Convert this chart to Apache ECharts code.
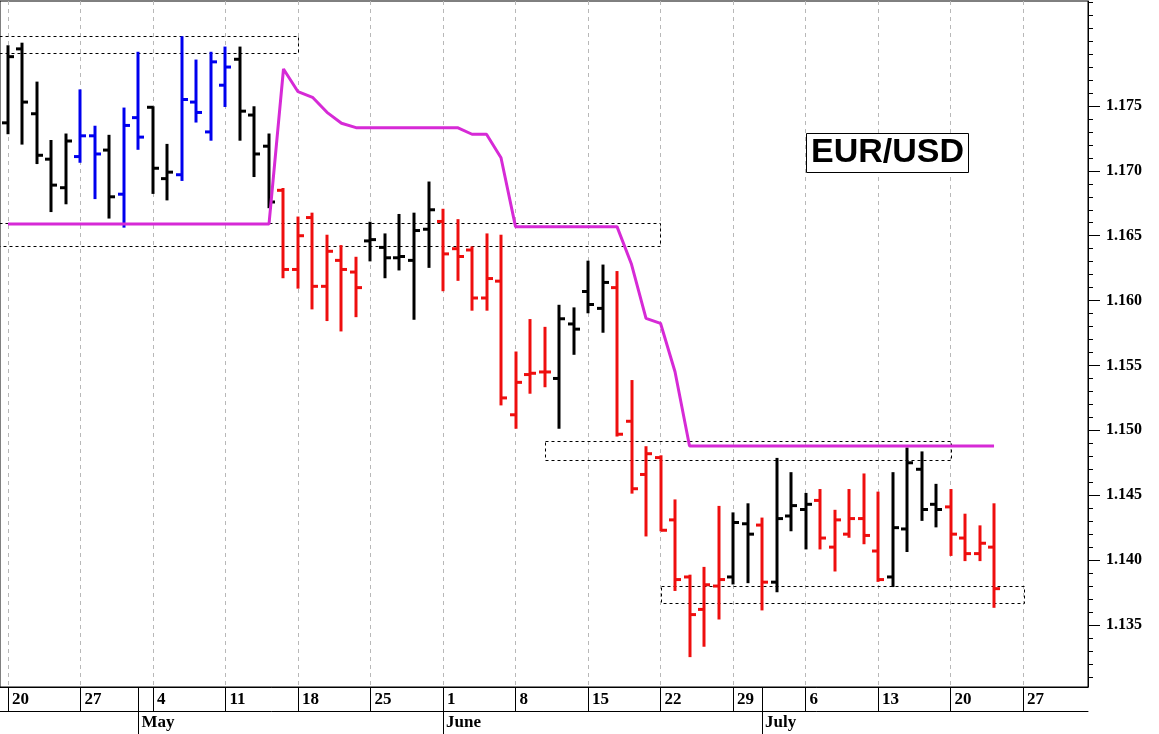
<!DOCTYPE html>
<html>
<head>
<meta charset="utf-8">
<script src="https://cdn.jsdelivr.net/npm/echarts@6/dist/echarts.min.js"></script>
<style>
html,body{margin:0;padding:0;background:#fff;}
#chart{width:1159px;height:734px;}
</style>
</head>
<body>
<div id="chart"></div>
<script>
// Trading days (index 0 = Apr 20)
const dates = ['Apr 20','Apr 21','Apr 22','Apr 23','Apr 24','Apr 27','Apr 28','Apr 29','Apr 30','May 1',
  'May 4','May 5','May 6','May 7','May 8','May 11','May 12','May 13','May 14','May 15',
  'May 18','May 19','May 20','May 21','May 22','May 25','May 26','May 27','May 28','May 29',
  'Jun 1','Jun 2','Jun 3','Jun 4','Jun 5','Jun 8','Jun 9','Jun 10','Jun 11','Jun 12',
  'Jun 15','Jun 16','Jun 17','Jun 18','Jun 19','Jun 22','Jun 23','Jun 24','Jun 25','Jun 26',
  'Jun 29','Jun 30','Jul 1','Jul 2','Jul 3','Jul 6','Jul 7','Jul 8','Jul 9','Jul 10',
  'Jul 13','Jul 14','Jul 15','Jul 16','Jul 17','Jul 20','Jul 21','Jul 22','Jul 23'];

const opens = [1.1737,1.1794,1.1744,1.1709,1.1687,1.1711,1.1727,1.1716,1.1682,1.1741,
  1.1749,1.1694,1.1697,1.1753,1.1730,1.1766,1.1786,1.1743,1.1719,1.1685,
  1.1624,1.1664,1.1611,1.1631,1.1622,1.1646,1.1641,1.1633,1.1631,1.1655,
  1.1661,1.1640,1.1639,1.1602,1.1615,1.1512,1.1543,1.1545,1.1540,1.1582,
  1.1607,1.1594,1.1610,1.1507,1.1466,1.1479,1.1431,1.1387,1.1362,1.1380,
  1.1387,1.1428,1.1427,1.1383,1.1434,1.1439,1.1446,1.1410,1.1420,1.1432,
  1.1407,1.1387,1.1424,1.1470,1.1443,1.1441,1.1417,1.1405,1.1410];
const highs = [1.1796,1.1798,1.1768,1.1723,1.1728,1.1762,1.1734,1.1727,1.1748,1.1791,
  1.1749,1.1720,1.1803,1.1785,1.1791,1.1795,1.1795,1.1749,1.1728,1.1686,
  1.1664,1.1667,1.1650,1.1642,1.1633,1.1660,1.1651,1.1666,1.1667,1.1691,
  1.1670,1.1662,1.1641,1.1651,1.1650,1.1560,1.1585,1.1579,1.1596,1.1594,
  1.1630,1.1627,1.1622,1.1538,1.1487,1.1480,1.1446,1.1388,1.1394,1.1441,
  1.1436,1.1443,1.1432,1.1478,1.1467,1.1451,1.1454,1.1438,1.1454,1.1466,
  1.1452,1.1467,1.1486,1.1483,1.1458,1.1454,1.1435,1.1426,1.1443];
const lows = [1.1729,1.1721,1.1706,1.1669,1.1675,1.1707,1.1679,1.1664,1.1657,1.1717,
  1.1683,1.1678,1.1693,1.1738,1.1724,1.1750,1.1724,1.1696,1.1672,1.1618,
  1.1610,1.1594,1.1585,1.1577,1.1588,1.1631,1.1618,1.1624,1.1586,1.1626,
  1.1608,1.1616,1.1593,1.1593,1.1520,1.1502,1.1529,1.1534,1.1502,1.1559,
  1.1591,1.1576,1.1496,1.1452,1.1419,1.1423,1.1377,1.1326,1.1334,1.1355,
  1.1382,1.1383,1.1362,1.1376,1.1423,1.1409,1.1409,1.1392,1.1418,1.1413,
  1.1384,1.1380,1.1407,1.1431,1.1426,1.1404,1.1400,1.1400,1.1364];
const closes = [1.1788,1.1753,1.1712,1.1689,1.1723,1.1727,1.1713,1.1680,1.1735,1.1726,
  1.1702,1.1699,1.1755,1.1745,1.1784,1.1780,1.1746,1.1713,1.1676,1.1624,
  1.1650,1.1611,1.1638,1.1624,1.1610,1.1647,1.1633,1.1634,1.1654,1.1670,
  1.1636,1.1634,1.1602,1.1617,1.1525,1.1537,1.1544,1.1545,1.1586,1.1578,
  1.1597,1.1614,1.1497,1.1455,1.1482,1.1423,1.1385,1.1358,1.1381,1.1385,
  1.1429,1.1420,1.1383,1.1432,1.1442,1.1443,1.1417,1.1431,1.1432,1.1419,
  1.1385,1.1425,1.1475,1.1439,1.1439,1.1420,1.1405,1.1413,1.1378];
// bar colour code: k = black, b = blue, r = red
const barColors = ['k','k','k','k','k','b','b','k','b','b',
  'k','k','b','b','b','b','k','k','k','r',
  'r','r','r','r','r','k','k','k','k','k',
  'r','r','r','r','r','r','r','r','k','k',
  'k','k','r','r','r','r','r','r','r','r',
  'k','k','r','k','k','k','r','r','r','r',
  'r','k','k','k','k','r','r','r','r'];
// magenta stop line
const stopLine = [1.1659,1.1659,1.1659,1.1659,1.1659,1.1659,1.1659,1.1659,1.1659,1.1659,
  1.1659,1.1659,1.1659,1.1659,1.1659,1.1659,1.1659,1.1659,1.1659,1.17785,
  1.1761,1.17567,1.17451,1.17367,1.17333,1.17333,1.17333,1.17333,1.17333,1.17333,
  1.17333,1.17333,1.17282,1.17282,1.17101,1.1657,1.1657,1.1657,1.1657,1.1657,
  1.1657,1.1657,1.1657,1.1628,1.15863,1.15825,1.15452,1.1488,1.1488,1.1488,
  1.1488,1.1488,1.1488,1.1488,1.1488,1.1488,1.1488,1.1488,1.1488,1.1488,
  1.1488,1.1488,1.1488,1.1488,1.1488,1.1488,1.1488,1.1488,1.1488];

// dashed boxes (start/end in trading-day index)
const boxStart = [-1, -1, 37, 45];
const boxEnd = [20, 45, 65, 70];
const boxTop = [1.1804, 1.1660, 1.1492, 1.1380];
const boxBottom = [1.1791, 1.1642, 1.1477, 1.1367];

// axis ticks / labels
const weekTickIdx = [0,5,10,15,20,25,30,35,40,45,50,55,60,65,70];
const weekTickLabels = ['20','27','4','11','18','25','1','8','15','22','29','6','13','20','27'];
const monthTickIdx = [9,30,52];
const monthTickLabels = ['May','June','July'];
const priceLabels = [1.135,1.140,1.145,1.150,1.155,1.160,1.165,1.170,1.175];
const minorTicks = [];
for (let k = 1131; k <= 1183; k++) minorTicks.push(k / 1000);

const colorMap = { k: '#000000', b: '#0000ee', r: '#ee0e0e' };
const X_MIN = -0.55, X_MAX = 74.48;
const Y_MIN = 1.13022, Y_MAX = 1.18309;
const GRID_LEFT = 0, GRID_RIGHT = 71, CHART_W = 1159;

const ohlcData = dates.map((d, i) => [i, opens[i], closes[i], lows[i], highs[i]]);
const stopData = stopLine.map((v, i) => [i, v]);
const boxData = boxStart.map((s, i) => [s, boxEnd[i], boxTop[i], boxBottom[i]]);

const serif = '"Liberation Serif","Times New Roman",serif';

const chart = echarts.init(document.getElementById('chart'));
chart.setOption({
  animation: false,
  backgroundColor: '#fff',
  title: {
    text: 'EUR/USD',
    left: 806, top: 133,
    padding: [3, 5, 3, 5],
    borderColor: '#000', borderWidth: 1,
    backgroundColor: '#fff',
    textStyle: { fontFamily: '"Liberation Sans",Arial,sans-serif', fontSize: 34, fontWeight: 'bold', color: '#000', lineHeight: 34 }
  },
  grid: { left: GRID_LEFT, right: GRID_RIGHT, top: 1, bottom: 47, show: true, borderColor: '#000', borderWidth: 1, backgroundColor: 'transparent' },
  xAxis: [
    {
      type: 'value', min: X_MIN, max: X_MAX, position: 'bottom',
      axisLine: { show: true, onZero: false, lineStyle: { color: '#000', width: 1 } },
      axisTick: { show: true, inside: false, length: 24, customValues: weekTickIdx.concat([9, 52]), lineStyle: { color: '#000', width: 1 } },
      axisLabel: {
        show: true, customValues: weekTickIdx, align: 'left', margin: 3, padding: [0, 0, 0, 4],
        fontFamily: serif, fontSize: 17, fontWeight: 'bold', color: '#000', lineHeight: 20,
        formatter: v => { const k = weekTickIdx.indexOf(Math.round(v)); return k >= 0 ? weekTickLabels[k] : ''; }
      },
      splitLine: { show: false }
    },
    {
      type: 'value', min: X_MIN, max: X_MAX, position: 'bottom', offset: 24,
      axisLine: { show: true, onZero: false, lineStyle: { color: '#000', width: 1 } },
      axisTick: { show: true, inside: false, length: 23, customValues: monthTickIdx, lineStyle: { color: '#000', width: 1 } },
      axisLabel: {
        show: true, customValues: monthTickIdx, align: 'left', margin: 2, padding: [0, 0, 0, 3],
        fontFamily: serif, fontSize: 17, fontWeight: 'bold', color: '#000', lineHeight: 20,
        formatter: v => { const k = monthTickIdx.indexOf(Math.round(v)); return k >= 0 ? monthTickLabels[k] : ''; }
      },
      splitLine: { show: false }
    },
    {
      type: 'value', min: X_MIN, max: X_MAX, position: 'top',
      axisLine: { show: false, onZero: false },
      axisTick: { show: false, customValues: weekTickIdx },
      axisLabel: { show: false, customValues: weekTickIdx },
      splitLine: { show: true, lineStyle: { color: '#b8b8b8', width: 1, type: [4, 4] } }
    }
  ],
  yAxis: [
    {
      type: 'value', min: Y_MIN, max: Y_MAX, position: 'right',
      axisLine: { show: true, onZero: false, lineStyle: { color: '#000', width: 1 } },
      axisTick: { show: true, inside: false, length: 12, customValues: priceLabels, lineStyle: { color: '#000', width: 1 } },
      axisLabel: {
        show: true, customValues: priceLabels, margin: 18,
        fontFamily: serif, fontSize: 16, fontWeight: 'bold', color: '#000',
        formatter: v => Number(v).toFixed(3)
      },
      splitLine: { show: false }
    },
    {
      // minor ticks: placed on the left slot, shifted onto the right edge of the plot
      type: 'value', min: Y_MIN, max: Y_MAX, position: 'left',
      offset: -(CHART_W - GRID_LEFT - GRID_RIGHT),
      axisLine: { show: false, onZero: false },
      axisTick: { show: true, inside: true, length: 5, customValues: minorTicks, lineStyle: { color: '#000', width: 1 } },
      axisLabel: { show: false },
      splitLine: { show: false }
    }
  ],
  series: [
    {
      type: 'custom', name: 'boxes', xAxisIndex: 0, yAxisIndex: 0, clip: true, z: 3,
      data: boxData,
      encode: { x: [0, 1], y: [2, 3] },
      renderItem: (params, api) => {
        const p1 = api.coord([api.value(0), api.value(2)]);
        const p2 = api.coord([api.value(1), api.value(3)]);
        return {
          type: 'rect',
          shape: { x: Math.round(p1[0]) + 0.5, y: Math.round(p1[1]) + 0.5, width: Math.round(p2[0] - p1[0]), height: Math.round(p2[1] - p1[1]) },
          style: { fill: 'none', stroke: '#000', lineWidth: 1, lineDash: [3, 3] }
        };
      }
    },
    {
      type: 'custom', name: 'EUR/USD', xAxisIndex: 0, yAxisIndex: 0, clip: true, z: 4,
      data: ohlcData,
      encode: { x: 0, y: [1, 2, 3, 4] },
      renderItem: (params, api) => {
        const i = api.value(0);
        const o = api.coord([i, api.value(1)]);
        const c = api.coord([i, api.value(2)]);
        const l = api.coord([i, api.value(3)]);
        const h = api.coord([i, api.value(4)]);
        const col = colorMap[barColors[params.dataIndex]];
        const x = Math.round(h[0]);
        const t = 6;
        const st = { stroke: col, lineWidth: 3 };
        return {
          type: 'group',
          children: [
            { type: 'line', shape: { x1: x, y1: h[1] - 1, x2: x, y2: l[1] + 1 }, style: st },
            { type: 'line', shape: { x1: x - t, y1: o[1], x2: x, y2: o[1] }, style: st },
            { type: 'line', shape: { x1: x, y1: c[1], x2: x + t, y2: c[1] }, style: st }
          ]
        };
      }
    },
    {
      type: 'line', name: 'stop', xAxisIndex: 0, yAxisIndex: 0, z: 5,
      data: stopData, symbol: 'none', showSymbol: false,
      lineStyle: { color: '#d62ad6', width: 3 },
      itemStyle: { color: '#d62ad6' }
    }
  ]
});
</script>
</body>
</html>
